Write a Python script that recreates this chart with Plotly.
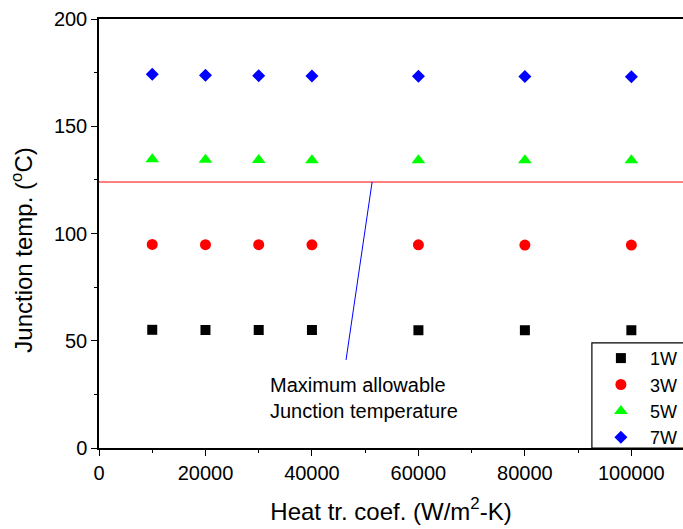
import plotly.graph_objects as go

# Heat transfer coefficient (W/m^2-K)
h_coef = [10000, 20000, 30000, 40000, 60000, 80000, 100000]

# Junction temperature (deg C) for each power level
temp_1w = [55.1, 55.0, 55.0, 55.0, 54.9, 54.9, 54.9]
temp_3w = [94.9, 94.8, 94.8, 94.7, 94.7, 94.6, 94.6]
temp_5w = [134.6, 134.4, 134.3, 134.2, 134.2, 134.1, 134.1]
temp_7w = [174.2, 173.8, 173.6, 173.4, 173.3, 173.2, 173.1]

series_names = ["1W", "3W", "5W", "7W"]
series_colors = ["#000000", "#ff0000", "#00ff00", "#0000ff"]
series_symbols = ["square", "circle", "triangle-up", "diamond"]
series_sizes = [10, 11, 12, 10]

max_junction_temp = 124.0
x_range = [0, 109700]
y_range = [0, 200]

# callout line from the limit line down to the label
callout_x = [51300, 46400]
callout_y = [max_junction_temp, 41]

FONT = "Arial, Liberation Sans, sans-serif"

fig = go.Figure()

for name, ys, color, sym, sz in zip(series_names, [temp_1w, temp_3w, temp_5w, temp_7w],
                                     series_colors, series_symbols, series_sizes):
    fig.add_trace(go.Scatter(
        x=h_coef, y=ys, mode="markers", name=name,
        marker=dict(symbol=sym, size=sz, color=color, line=dict(width=0)),
    ))

# maximum allowable junction temperature
fig.add_trace(go.Scatter(
    x=x_range, y=[max_junction_temp, max_junction_temp], mode="lines",
    line=dict(color="#ff0000", width=1), showlegend=False, hoverinfo="skip",
))
fig.add_trace(go.Scatter(
    x=callout_x, y=callout_y, mode="lines",
    line=dict(color="#0000ff", width=1), showlegend=False, hoverinfo="skip",
))

fig.add_annotation(
    x=31800, y=35.5, xref="x", yref="y", xanchor="left", yanchor="top",
    text="Maximum allowable<br>Junction temperature", showarrow=False, align="left",
    font=dict(family=FONT, size=20, color="#000000"),
)

# y-axis title
fig.add_annotation(
    x=-0.132, y=0.462, xref="paper", yref="paper", xanchor="center", yanchor="middle",
    text="Junction temp. (<sup>o</sup>C)", textangle=-90, showarrow=False,
    font=dict(family=FONT, size=24, color="#000000"),
)

# legend frame (runs off the right edge)
fig.add_shape(
    type="rect", xref="paper", yref="paper", x0=0.844, x1=1.2, y0=0.0, y1=0.245,
    line=dict(color="#000000", width=1.2), fillcolor="rgba(0,0,0,0)", layer="above",
)

fig.update_layout(
    width=683, height=529,
    margin=dict(l=99, r=0, t=19, b=81, autoexpand=False),
    paper_bgcolor="white", plot_bgcolor="white",
    font=dict(family=FONT, size=20, color="#000000"),
    showlegend=True,
    legend=dict(
        x=0.844, y=0.252, xanchor="left", yanchor="top",
        bgcolor="rgba(0,0,0,0)", borderwidth=0,
        font=dict(family=FONT, size=18),
        itemsizing="trace", itemwidth=48,
    ),
    xaxis=dict(
        range=x_range, showgrid=False, zeroline=False,
        showline=True, linecolor="#000000", linewidth=1.5, mirror=True,
        ticks="outside", ticklen=6, tickwidth=1.2, tickcolor="#000000",
        tickvals=[0, 20000, 40000, 60000, 80000, 100000], tickformat="d",
        tickfont=dict(family=FONT, size=20),
        minor=dict(dtick=10000, tick0=0, ticks="outside", ticklen=3, tickcolor="#000000", tickwidth=1.2),
        title=dict(text="Heat tr. coef. (W/m<sup>2</sup>-K)", font=dict(family=FONT, size=24), standoff=20),
    ),
    yaxis=dict(
        range=y_range, showgrid=False, zeroline=False,
        showline=True, linecolor="#000000", linewidth=1.5, mirror=False,
        ticks="outside", ticklen=6, tickwidth=1.2, tickcolor="#000000",
        tickvals=[0, 50, 100, 150, 200],
        tickfont=dict(family=FONT, size=20),
        minor=dict(dtick=25, tick0=0, ticks="outside", ticklen=3, tickcolor="#000000", tickwidth=1.2),
    ),
)

fig.write_html("out.html")
